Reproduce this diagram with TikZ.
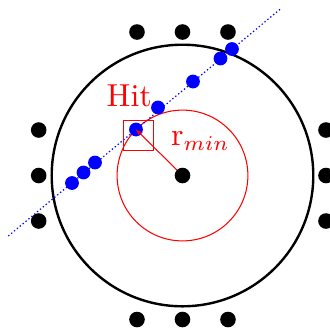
\documentclass[tikz,border=0pt]{standalone}
\usetikzlibrary{arrows.meta}
\begin{document}
\begin{tikzpicture}[x=0.33333pt,y=-0.33333pt,
  bdot/.style={circle,fill=black,inner sep=0pt,minimum size=5.2pt},
  hdot/.style={circle,fill=blue,inner sep=0pt,minimum size=4.6pt},
  trackline/.style={blue,line width=0.4pt,dash pattern=on 0.45pt off 0.8pt},
  redline/.style={red,line width=0.35pt},
  lbl/.style={text=red,font=\fontsize{10.6}{12}\selectfont}]
\useasboundingbox (0,0) rectangle (330,329);
\coordinate (c) at (182.5,175.5);
\draw[line width=0.8pt] (c) circle[radius=43.6pt];
\draw[redline] (c) circle[radius=21.8pt];
\coordinate (t1) at (8.3,236);
\coordinate (t2) at (280,9.3);
\draw[trackline] (t1) -- (t2);
% hits
\node[hdot] (h1) at (72,183) {};
\node[hdot] (h2) at (83.5,172.5) {};
\node[hdot] (h3) at (95,162.5) {};
\node[hdot] (h4) at (136,129.5) {};
\node[hdot] (h5) at (158,107.5) {};
\node[hdot] (h6) at (193,81.5) {};
\node[hdot] (h7) at (220.5,58.5) {};
\node[hdot] (h8) at (232,49) {};
% window
\node[draw=red,line width=0.35pt,inner sep=0pt,minimum size=10pt] (win) at (138.8,135.5) {};
\node[lbl,anchor=base,inner sep=0pt] (hit) at (129.2,106.7) {Hit};
\node[lbl,anchor=base west,inner sep=0pt] (rm) at (170.5,145.5) {r$_{min}$};
\draw[redline,{Stealth[length=2.2pt,width=1.6pt]}-{Stealth[length=2.2pt,width=1.6pt]}] (h4.center) -- (c);
% layer cells
\node[bdot] (ctr) at (c) {};
\node[bdot] (u1) at (137,32) {};
\node[bdot] (u2) at (182.5,32) {};
\node[bdot] (u3) at (228,32) {};
\node[bdot] (d1) at (137,319.5) {};
\node[bdot] (d2) at (182.5,319.5) {};
\node[bdot] (d3) at (228,319.5) {};
\node[bdot] (l1) at (38.7,130) {};
\node[bdot] (l2) at (38.7,175.5) {};
\node[bdot] (l3) at (38.7,221) {};
\node[bdot] (r1) at (326,130) {};
\node[bdot] (r2) at (326,175.5) {};
\node[bdot] (r3) at (326,221) {};
\end{tikzpicture}
\end{document}
